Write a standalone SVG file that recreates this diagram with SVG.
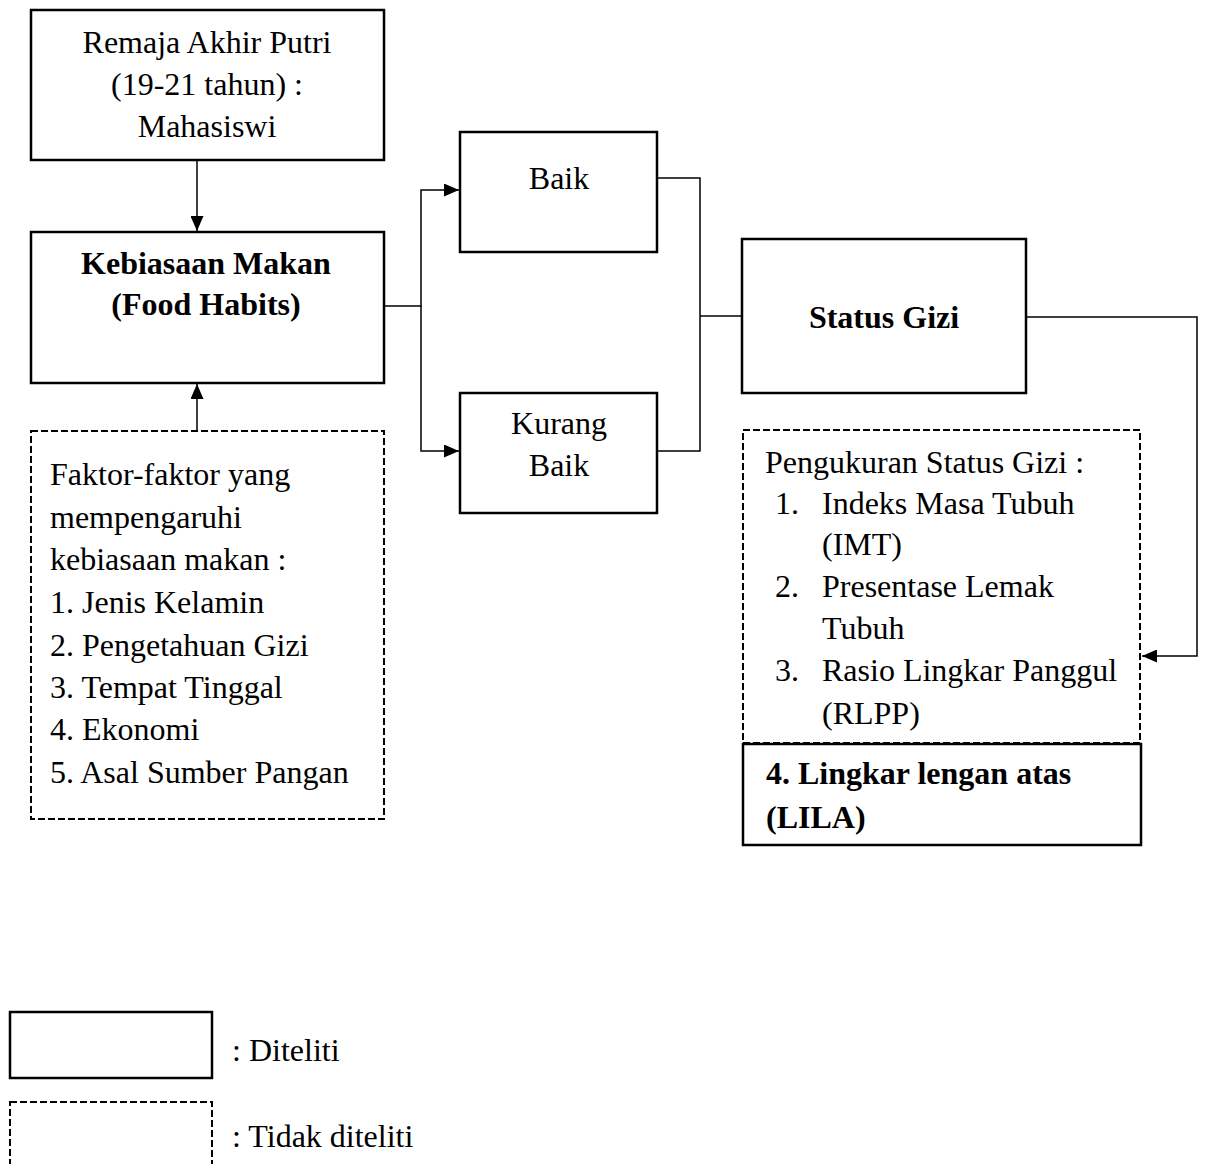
<svg xmlns="http://www.w3.org/2000/svg" width="1206" height="1164" viewBox="0 0 1206 1164">
<style>
.box{fill:#fff;stroke:#000;stroke-width:2.5}
.dash{fill:#fff;stroke:#000;stroke-width:2;stroke-dasharray:7 3}
.ln{fill:none;stroke:#000;stroke-width:1.5}
text{font-family:"Liberation Serif","Times New Roman",serif;font-size:32px;fill:#000}
.c{text-anchor:middle}
.b{font-weight:bold}
</style>
<defs>
<marker id="ah" markerWidth="15" markerHeight="13" refX="15" refY="6.5" orient="auto" markerUnits="userSpaceOnUse">
<path d="M0,0 L15,6.5 L0,13 Z" fill="#000"/>
</marker>
</defs>
<rect width="1206" height="1164" fill="#fff"/>
<g id="connectors">
<line class="ln" x1="197" y1="160" x2="197" y2="231" marker-end="url(#ah)"/>
<line class="ln" x1="197" y1="431" x2="197" y2="384" marker-end="url(#ah)"/>
<polyline class="ln" points="384,306 421,306 421,190 459,190" marker-end="url(#ah)"/>
<polyline class="ln" points="421,306 421,451 459,451" marker-end="url(#ah)"/>
<polyline class="ln" points="657,178 700,178 700,451 657,451"/>
<line class="ln" x1="700" y1="316" x2="742" y2="316"/>
<polyline class="ln" points="1026,317 1197,317 1197,656 1142,656" marker-end="url(#ah)"/>
</g>
<g id="remaja">
<rect class="box" x="31" y="10" width="353" height="150"/>
<text class="c" x="207" y="53">Remaja Akhir Putri</text>
<text class="c" x="207" y="95">(19-21 tahun) :</text>
<text class="c" x="207" y="137">Mahasiswi</text>
</g>
<g id="kebiasaan">
<rect class="box" x="31" y="232" width="353" height="151"/>
<text class="c b" x="206" y="274">Kebiasaan Makan</text>
<text class="c b" x="206" y="315">(Food Habits)</text>
</g>
<g id="faktor">
<rect class="dash" x="31" y="431" width="353" height="388"/>
<text x="50" y="485">Faktor-faktor yang</text>
<text x="50" y="528">mempengaruhi</text>
<text x="50" y="570">kebiasaan makan :</text>
<text x="50" y="613">1. Jenis Kelamin</text>
<text x="50" y="656">2. Pengetahuan Gizi</text>
<text x="50" y="698">3. Tempat Tinggal</text>
<text x="50" y="740">4. Ekonomi</text>
<text x="50" y="783">5. Asal Sumber Pangan</text>
</g>
<g id="baik">
<rect class="box" x="460" y="132" width="197" height="120"/>
<text class="c" x="559" y="189">Baik</text>
</g>
<g id="kurang">
<rect class="box" x="460" y="393" width="197" height="120"/>
<text class="c" x="559" y="434">Kurang</text>
<text class="c" x="559" y="476">Baik</text>
</g>
<g id="status">
<rect class="box" x="742" y="239" width="284" height="154"/>
<text class="c b" x="884" y="328">Status Gizi</text>
</g>
<g id="pengukuran">
<rect class="dash" x="743" y="430" width="397" height="313"/>
<text x="765" y="473">Pengukuran Status Gizi :</text>
<text x="775" y="514">1.</text>
<text x="822" y="514">Indeks Masa Tubuh</text>
<text x="822" y="555">(IMT)</text>
<text x="775" y="597">2.</text>
<text x="822" y="597">Presentase Lemak</text>
<text x="822" y="639">Tubuh</text>
<text x="775" y="681">3.</text>
<text x="822" y="681">Rasio Lingkar Panggul</text>
<text x="822" y="724">(RLPP)</text>
</g>
<g id="lila">
<rect class="box" x="743" y="744" width="398" height="101"/>
<text class="b" x="766" y="784">4. Lingkar lengan atas</text>
<text class="b" x="766" y="828">(LILA)</text>
</g>
<g id="legend">
<rect class="box" x="10" y="1012" width="202" height="66"/>
<text x="232" y="1061">: Diteliti</text>
<rect class="dash" x="10" y="1102" width="202" height="80"/>
<text x="232" y="1147">: Tidak diteliti</text>
</g>
</svg>
